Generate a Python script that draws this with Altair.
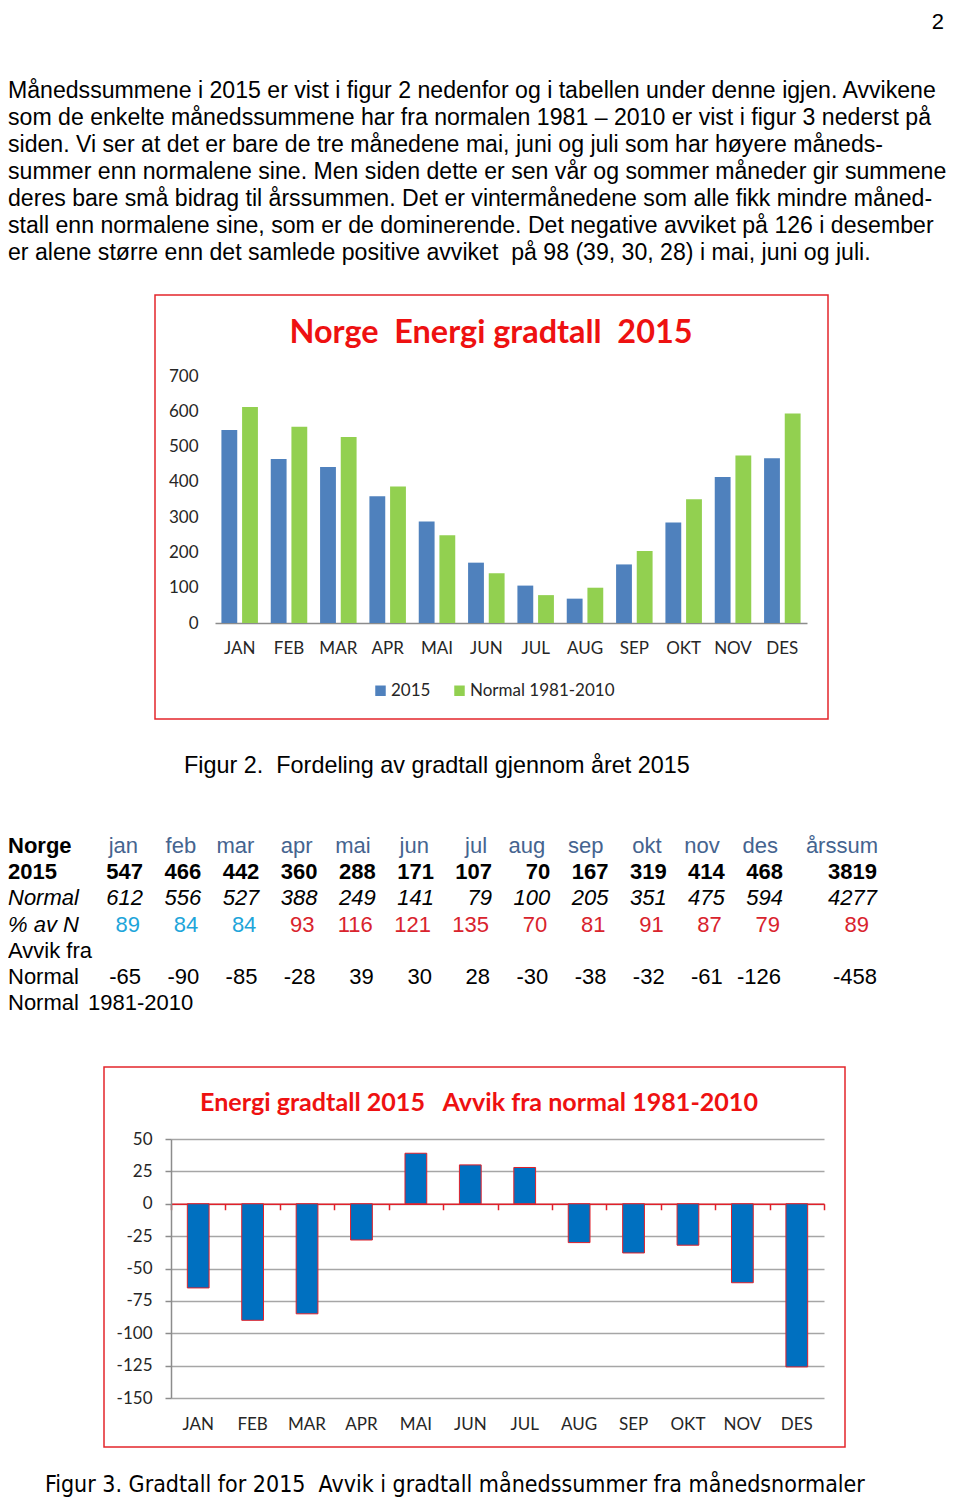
import altair as alt
import pandas as pd

# ---------------- data ----------------
months = ["JAN", "FEB", "MAR", "APR", "MAI", "JUN", "JUL", "AUG", "SEP", "OKT", "NOV", "DES"]
series_names = ["2015", "Normal 1981-2010"]
values_2015 = [547, 465, 442, 359, 288, 171, 106, 69, 166, 285, 414, 467]
values_normal = [612, 556, 527, 387, 249, 141, 79, 100, 204, 351, 475, 594]
deviation = [-65, -90, -85, -28, 39, 30, 28, -30, -38, -32, -61, -126]
axis1_ticks = [0, 100, 200, 300, 400, 500, 600, 700]
axis2_ticks = [-150, -125, -100, -75, -50, -25, 0, 25, 50]

paragraph = [
    "Månedssummene i 2015 er vist i figur 2 nedenfor og i tabellen under denne igjen. Avvikene",
    "som de enkelte månedssummene har fra normalen 1981 – 2010 er vist i figur 3 nederst på",
    "siden. Vi ser at det er bare de tre månedene mai, juni og juli som har høyere måneds-",
    "summer enn normalene sine. Men siden dette er sen vår og sommer måneder gir summene",
    "deres bare små bidrag til årssummen. Det er vintermånedene som alle fikk mindre måned-",
    "stall enn normalene sine, som er de dominerende. Det negative avviket på 126 i desember",
    "er alene større enn det samlede positive avviket \u00a0på 98 (39, 30, 28) i mai, juni og juli.",
]

tbl_months = ["jan", "feb", "mar", "apr", "mai", "jun", "jul", "aug", "sep", "okt", "nov", "des"]
tbl_2015 = ["547", "466", "442", "360", "288", "171", "107", "70", "167", "319", "414", "468"]
tbl_normal = ["612", "556", "527", "388", "249", "141", "79", "100", "205", "351", "475", "594"]
tbl_pct = ["89", "84", "84", "93", "116", "121", "135", "70", "81", "91", "87", "79"]
tbl_dev = ["-65", "-90", "-85", "-28", "39", "30", "28", "-30", "-38", "-32", "-61", "-126"]
tbl_sum_head = "årssum"
tbl_sum = {"y": "3819", "n": "4277", "p": "89", "d": "-458"}
row_keys = ["h", "y", "n", "p", "a", "d", "l"]

title1 = "Norge \u00a0Energi gradtall \u00a02015"
title2 = "Energi gradtall 2015 \u00a0 Avvik fra normal 1981-2010"
caption2 = "Figur 2.\u00a0 Fordeling av gradtall gjennom året 2015"
caption3 = "Figur 3. Gradtall for 2015 \u00a0Avvik i gradtall månedssummer fra månedsnormaler"

# ---------------- layout constants ----------------
W, H = 944, 1490
RED = "#E3262B"
TITLE_RED = "#EE1111"
TXT = "Liberation Sans"
CAL = "Lato"
one = pd.DataFrame({"k": [0]})

layers = []

# page number
layers.append(alt.Chart(one).mark_text(text="2", font=TXT, fontSize=22, align="right", baseline="middle",
                                       color="black").encode(x=alt.value(936), y=alt.value(14)))

# paragraph
para_df = pd.DataFrame({"i": list(range(len(paragraph))), "t": paragraph})
layers.append(
    alt.Chart(para_df).mark_text(align="left", baseline="middle", font=TXT, fontSize=23.1, color="black").encode(
        x=alt.value(0),
        y=alt.Y("i:O", scale=alt.Scale(type="point", range=[83, 245], padding=0), axis=None),
        text="t:N",
    )
)

# ---------------- chart 1 ----------------
layers.append(alt.Chart(one).mark_rect(fillOpacity=0, stroke=RED, strokeWidth=1.5).encode(
    x=alt.value(147), x2=alt.value(820), y=alt.value(287), y2=alt.value(711)))
layers.append(alt.Chart(one).mark_text(text=title1, font=CAL, fontWeight="bold", fontSize=32.4, color=TITLE_RED,
                                       align="center", baseline="middle").encode(x=alt.value(483), y=alt.value(325)))

c1_df = pd.DataFrame({
    "month": months * 2,
    "series": [series_names[0]] * 12 + [series_names[1]] * 12,
    "value": values_2015 + values_normal,
})
bars1 = alt.Chart(c1_df).mark_bar().encode(
    x=alt.X("month:N", sort=months,
            scale=alt.Scale(domain=months, range=[207, 799], paddingInner=0.26, paddingOuter=0.13),
            axis=alt.Axis(orient="bottom", offset=-875, title=None, domainColor="#8C8C8C", domainWidth=1.5,
                          ticks=False, tickSize=0, labelPadding=17, labelFont=CAL, labelFontSize=17,
                          labelColor="#262626", labelAngle=0)),
    xOffset=alt.XOffset("series:N", sort=series_names, scale=alt.Scale(paddingInner=0.234)),
    y=alt.Y("value:Q", scale=alt.Scale(domain=[0, 700], range=[615, 368], nice=False),
            axis=alt.Axis(orient="left", offset=-207, title=None, values=axis1_ticks, domain=False, ticks=False,
                          tickSize=0, grid=False, labelPadding=17, labelFont=CAL, labelFontSize=17,
                          labelColor="#262626")),
    color=alt.Color("series:N", sort=series_names,
                    scale=alt.Scale(domain=series_names, range=["#4F81BD", "#92D050"]),
                    legend=alt.Legend(orient="none", legendX=364, legendY=674, direction="horizontal", title=None,
                                      symbolType="square", symbolSize=110, symbolStrokeWidth=0, labelFont=CAL,
                                      labelFontSize=17, labelColor="#262626", columnPadding=20, labelOffset=2)),
)
layers.append(bars1)

layers.append(alt.Chart(one).mark_text(text=caption2, font=TXT, fontSize=23.4, align="left", baseline="middle",
                                       color="black").encode(x=alt.value(176), y=alt.value(758)))

# ---------------- table ----------------
ROW_Y = alt.Scale(type="point", domain=row_keys, range=[838, 995], padding=0)
COL_X = alt.Scale(type="point", domain=tbl_months, range=[135, 775], padding=0)


def cells(df, x_enc, color="black", **mk):
    enc = dict(x=x_enc, y=alt.Y("row:N", scale=ROW_Y, axis=None), text="t:N")
    if isinstance(color, str):
        mkp = dict(color=color)
    else:
        mkp = {}
        enc["color"] = color
    return alt.Chart(df).mark_text(baseline="middle", font=TXT, fontSize=22, **mkp, **mk).encode(**enc)


colx = alt.X("col:N", scale=COL_X, axis=None)
sumx = alt.value(869)

# labels
lab_bold = pd.DataFrame({"row": ["h", "y"], "t": ["Norge", "2015"]})
lab_ital = pd.DataFrame({"row": ["n", "p"], "t": ["Normal", "% av N"]})
lab_reg = pd.DataFrame({"row": ["a", "d", "l"], "t": ["Avvik fra", "Normal", "Normal"]})
layers.append(cells(lab_bold, alt.value(0), align="left", fontWeight="bold"))
layers.append(cells(lab_ital, alt.value(0), align="left", fontStyle="italic"))
layers.append(cells(lab_reg, alt.value(0), align="left"))
layers.append(cells(pd.DataFrame({"row": ["l"], "t": ["1981-2010"]}), alt.value(80), align="left"))

HEAD = "#45648F"
head_df = pd.DataFrame({"row": "h", "col": tbl_months, "t": tbl_months})
layers.append(cells(head_df, colx, color=HEAD, align="right", dx=-5))
layers.append(cells(pd.DataFrame({"row": ["h"], "t": [tbl_sum_head]}), sumx, color=HEAD, align="right", dx=1))

y_df = pd.DataFrame({"row": "y", "col": tbl_months, "t": tbl_2015})
layers.append(cells(y_df, colx, align="right", fontWeight="bold"))
n_df = pd.DataFrame({"row": "n", "col": tbl_months, "t": tbl_normal})
layers.append(cells(n_df, colx, align="right", fontStyle="italic"))
p_df = pd.DataFrame({"row": "p", "col": tbl_months, "t": tbl_pct})
layers.append(cells(p_df, colx, align="right", color=alt.condition(
    alt.FieldOneOfPredicate(field="col", oneOf=["jan", "feb", "mar"]), alt.value("#1EA5DA"), alt.value("#D9232D")),
    dx=-3))
d_df = pd.DataFrame({"row": "d", "col": tbl_months, "t": tbl_dev})
layers.append(cells(d_df, colx, align="right", dx=-2))

sum_bold = pd.DataFrame({"row": ["y"], "t": [tbl_sum["y"]]})
sum_ital = pd.DataFrame({"row": ["n"], "t": [tbl_sum["n"]]})
sum_pct = pd.DataFrame({"row": ["p"], "t": [tbl_sum["p"]]})
sum_dev = pd.DataFrame({"row": ["d"], "t": [tbl_sum["d"]]})
layers.append(cells(sum_bold, sumx, align="right", fontWeight="bold"))
layers.append(cells(sum_ital, sumx, align="right", fontStyle="italic"))
layers.append(cells(sum_pct, sumx, align="right", color="#D9232D", dx=-8))
layers.append(cells(sum_dev, sumx, align="right"))

# ---------------- chart 2 ----------------
layers.append(alt.Chart(one).mark_rect(fillOpacity=0, stroke=RED, strokeWidth=1.5).encode(
    x=alt.value(96), x2=alt.value(837), y=alt.value(1059), y2=alt.value(1439)))
layers.append(alt.Chart(one).mark_text(text=title2, font=CAL, fontWeight="bold", fontSize=25.1, color=TITLE_RED,
                                       align="center", baseline="middle").encode(x=alt.value(471), y=alt.value(1095)))

c2_df = pd.DataFrame({"month": months, "dev": deviation})
Y2 = alt.Scale(domain=[-150, 50], range=[1390, 1131], nice=False)
bars2 = alt.Chart(c2_df).mark_bar(color="#0070C0", stroke="#E0202A", strokeWidth=1).encode(
    x=alt.X("month:N", sort=months,
            scale=alt.Scale(domain=months, range=[163, 816], paddingInner=0.6, paddingOuter=0.3),
            axis=alt.Axis(orient="bottom", offset=-100, title=None, domain=False, ticks=False, tickSize=0,
                          labelPadding=18, labelFont=CAL, labelFontSize=17, labelColor="#262626", labelAngle=0)),
    y=alt.Y("dev:Q", scale=Y2,
            axis=alt.Axis(orient="left", offset=-163, title=None, values=axis2_ticks, domain=True,
                          labelExpr="'' + datum.value",
                          domainColor="#8C8C8C", domainWidth=1.5, ticks=True, tickColor="#8C8C8C", tickSize=6,
                          tickWidth=1.5, grid=True, gridColor="#A6A6A6", gridWidth=1.5, labelPadding=13,
                          labelFont=CAL, labelFontSize=17, labelColor="#262626")),
)
zero_axis = alt.Chart(c2_df).mark_bar(opacity=0).encode(
    x=alt.X("month:N", sort=months,
            scale=alt.Scale(domain=months, range=[163, 816], paddingInner=0, paddingOuter=0),
            axis=alt.Axis(orient="bottom", offset=-294.25, title=None, labels=False, domainColor="#E0202A",
                          domainWidth=1.5, tickColor="#E0202A", tickWidth=1.5, tickSize=6, tickBand="extent",
                          grid=False)),
    y=alt.Y("dev:Q", scale=Y2, axis=None),
)
layers.append(bars2)
layers.append(zero_axis)

layers.append(alt.Chart(one).mark_text(text=caption3, font="DejaVu Sans Condensed, DejaVu Sans", fontSize=23,
                                       align="left", baseline="alphabetic", color="black").encode(
    x=alt.value(37), y=alt.value(1484)))

chart = (
    alt.layer(*layers)
    .resolve_scale(x="independent", y="independent", color="independent")
    .properties(width=W, height=H, autosize=alt.AutoSizeParams(type="none"), padding=0, background="white")
    .configure_view(strokeWidth=0)
)

chart.save("out.html", embed_options={"renderer": "svg", "actions": False})
